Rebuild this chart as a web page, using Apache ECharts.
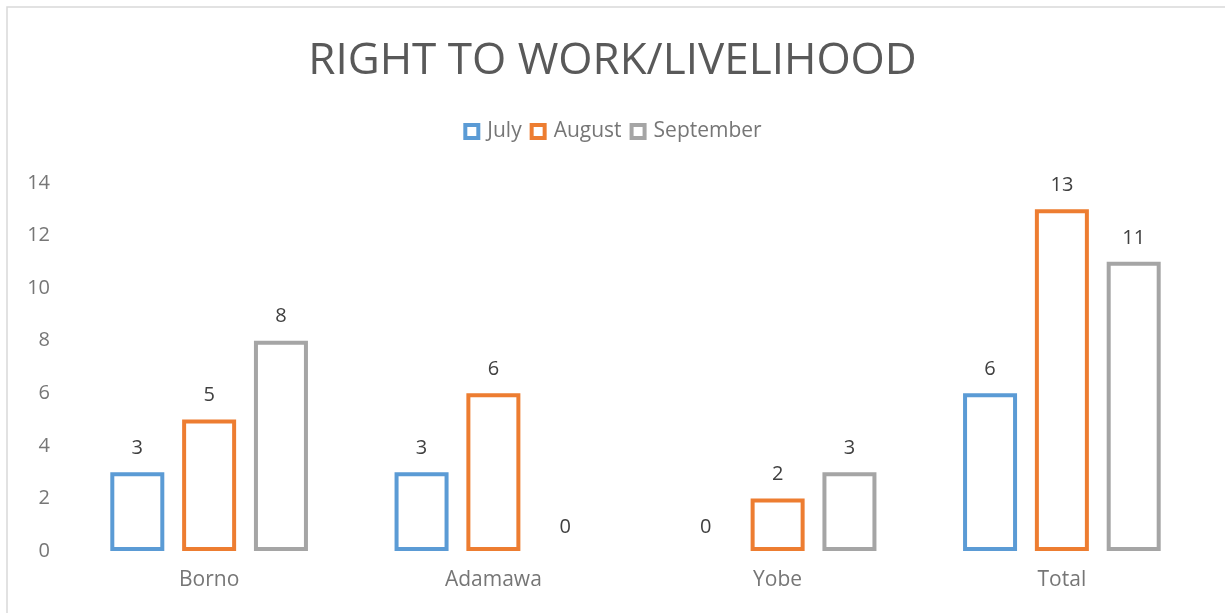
<!DOCTYPE html>
<html>
<head>
<meta charset="utf-8">
<script src="https://cdn.jsdelivr.net/npm/echarts@6/dist/echarts.min.js"></script>
<style>
  html, body { margin: 0; padding: 0; background: #fff; }
  #chart { width: 1225px; height: 613px; }
</style>
</head>
<body>
<div id="chart"></div>
<script>
  const categories = ['Borno', 'Adamawa', 'Yobe', 'Total'];
  const july = [3, 3, 0, 6];
  const august = [5, 6, 2, 13];
  const september = [8, 0, 3, 11];
  const yTicks = [0, 2, 4, 6, 8, 10, 12, 14];

  const font = '"Open Sans", "Liberation Sans", sans-serif';

  // zero values show only their label, no outline
  function points(values) {
    return values.map((v) => (v === 0
      ? { value: v, itemStyle: { borderWidth: 0, borderColor: 'transparent', color: 'transparent' } }
      : v));
  }

  function series(name, color, values) {
    return {
      name,
      type: 'bar',
      barWidth: 54,
      barGap: '33%',
      data: points(values),
      itemStyle: { color: '#fff', borderColor: color, borderWidth: 4 },
      label: {
        show: true,
        position: 'top',
        distance: 14,
        color: '#404040',
        fontSize: 20,
        fontFamily: font,
      },
    };
  }

  const chart = echarts.init(document.getElementById('chart'), null, { renderer: 'canvas' });
  chart.setOption({
    animation: false,
    graphic: [{
      type: 'rect',
      shape: { x: 7, y: 7, width: 1240, height: 640 },
      style: { fill: 'none', stroke: '#d9d9d9', lineWidth: 1.5 },
      silent: true,
    }],
    title: {
      text: 'RIGHT TO WORK/LIVELIHOOD',
      left: 'center',
      top: 34,
      textStyle: { color: '#595959', fontSize: 44, fontWeight: 'normal', fontFamily: font },
    },
    legend: {
      top: 116,
      left: 'center',
      itemWidth: 13,
      itemHeight: 13,
      itemGap: 8,
      icon: 'rect',
      itemStyle: { borderWidth: 4 },
      textStyle: { color: '#767676', fontSize: 21, fontFamily: font, padding: [0, 0, 0, 4] },
    },
    grid: { top: 183, bottom: 62, left: 67, right: 21, containLabel: false },
    xAxis: {
      type: 'category',
      data: categories,
      axisLine: { show: false },
      axisTick: { show: false },
      axisLabel: { color: '#767676', fontSize: 21, margin: 19, fontFamily: font },
    },
    yAxis: {
      type: 'value',
      min: yTicks[0],
      max: yTicks[yTicks.length - 1],
      interval: 2,
      splitLine: { show: false },
      axisLine: { show: false },
      axisTick: { show: false },
      axisLabel: { color: '#767676', fontSize: 20, margin: 17, fontFamily: font },
    },
    series: [
      series('July', '#5b9bd5', july),
      series('August', '#ed7d31', august),
      series('September', '#a5a5a5', september),
    ],
  });

  window.addEventListener('resize', () => chart.resize());
</script>
</body>
</html>
